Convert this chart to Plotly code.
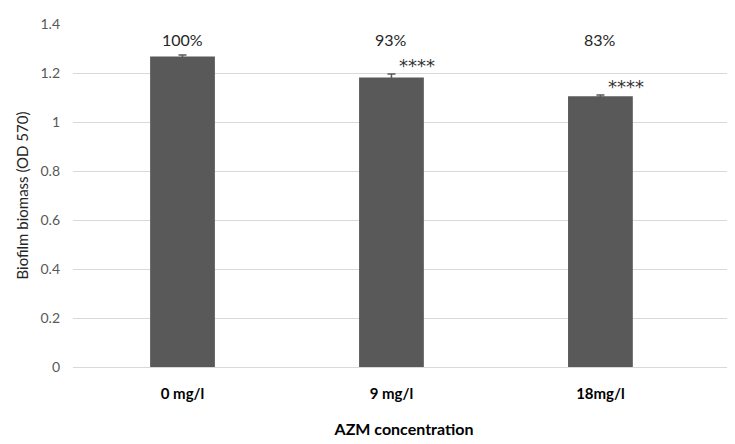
import plotly.graph_objects as go

categories = ["0 mg/l", "9 mg/l", "18mg/l"]
biomass = [1.267, 1.182, 1.105]
errors = [0.006, 0.014, 0.005]
pct_labels = ["100%", "93%", "83%"]
sig_labels = ["", "****", "****"]
y_ticks = [0, 0.2, 0.4, 0.6, 0.8, 1, 1.2, 1.4]

FONT = "Lato, Open Sans, sans-serif"

fig = go.Figure()
fig.add_trace(go.Bar(
    x=categories, y=biomass, width=0.31,
    marker=dict(color="#595959", line=dict(width=0)),
    error_y=dict(type="data", array=errors, visible=True,
                 color="#595959", thickness=1.5, width=4),
))

for i, p in enumerate(pct_labels):
    fig.add_annotation(x=i, y=1.335, text=p, showarrow=False, xref="x", yref="y",
                       font=dict(family=FONT, size=16, color="#262626"))
for i, s in enumerate(sig_labels):
    if s:
        fig.add_annotation(x=i + 0.12, y=biomass[i] + errors[i] + 0.035, text=s,
                           showarrow=False, xref="x", yref="y",
                           font=dict(family="DejaVu Sans, sans-serif", size=18, color="#333333"))

fig.update_layout(
    width=727, height=436,
    margin=dict(l=65, r=0, t=16, b=77),
    paper_bgcolor="white", plot_bgcolor="white",
    showlegend=False,
    font=dict(family=FONT),
    xaxis=dict(
        range=[-0.524, 2.644], showgrid=False, zeroline=False, showline=False,
        automargin=False,
        ticks="", ticklabelstandoff=16,
        tickfont=dict(family=FONT, size=15, color="black", weight="bold"),
        title=dict(text="<b>AZM concentration</b>", font=dict(family=FONT, size=16, color="black"),
                   standoff=22),
    ),
    yaxis=dict(
        range=[0, 1.4], tickvals=y_ticks, ticktext=[f"{v:g}" for v in y_ticks],
        automargin=False,
        showgrid=True, gridcolor="#d9d9d9", gridwidth=1,
        zeroline=True, zerolinecolor="#d9d9d9", zerolinewidth=1,
        showline=False, ticks="", ticklabelstandoff=12,
        tickfont=dict(family=FONT, size=14, color="#595959"),
        title=dict(text="Biofilm biomass (OD 570)", font=dict(family=FONT, size=15, color="#262626"),
                   standoff=8),
    ),
)

fig.write_html("out.html")
